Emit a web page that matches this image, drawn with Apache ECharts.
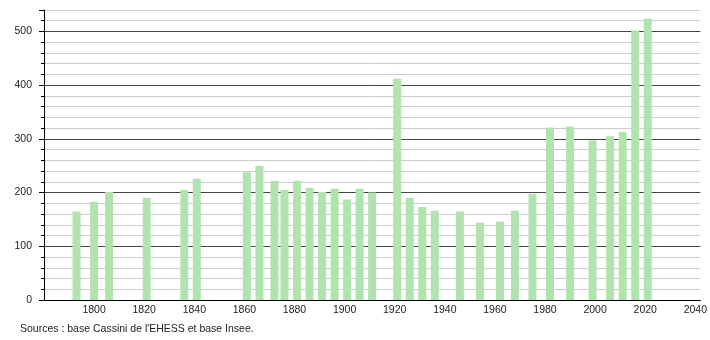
<!DOCTYPE html>
<html><head><meta charset="utf-8">
<script src="https://cdn.jsdelivr.net/npm/echarts@6/dist/echarts.min.js"></script>
<style>html,body{margin:0;padding:0;background:#fff}#c{width:710px;height:340px}</style>
</head><body><div id="c"></div>
<script>
const years = [1793,1800,1806,1821,1836,1841,1861,1866,1872,1876,1881,1886,1891,1896,1901,1906,1911,1921,1926,1931,1936,1946,1954,1962,1968,1975,1982,1990,1999,2006,2011,2016,2021];
const population = [165,183,201,190,205,226,238,250,222,205,222,209,201,207,187,207,200,412,190,173,166,165,144,146,166,198,321,323,297,305,313,502,524];
const xTickLabels = [1800,1820,1840,1860,1880,1900,1920,1940,1960,1980,2000,2020,2040];
const yTickLabels = [0,100,200,300,400,500];
const sourceText = "Sources : base Cassini de l'EHESS et base Insee.";

const chart = echarts.init(document.getElementById('c'), null, {renderer:'canvas'});
const font = 'Liberation Sans, Arial, sans-serif';
chart.setOption({
  animation:false,
  backgroundColor:'#fff',
  grid:{left:44,right:9,top:10,bottom:40},
  xAxis:{
    type:'value', min:1780, max:2042, interval:20,
    axisLine:{show:true,onZero:false,lineStyle:{color:'#000',width:1}},
    axisTick:{show:false},
    splitLine:{show:false},
    axisLabel:{
      customValues:xTickLabels,
      color:'#222', fontFamily:font, fontSize:10.5, margin:5,
      formatter:v=>String(v)
    }
  },
  yAxis:{
    type:'value', min:0, max:540, interval:100,
    axisLine:{show:true,lineStyle:{color:'#000',width:1}},
    axisTick:{show:true,length:5,lineStyle:{color:'#000'}},
    minorTick:{show:true,splitNumber:5,length:3,lineStyle:{color:'#000'}},
    splitLine:{show:true,lineStyle:{color:['#444','#444','#444','#444','#444','#444','#ccc'],width:1}},
    minorSplitLine:{show:true,lineStyle:{color:'#ccc',width:1}},
    axisLabel:{
      color:'#222', fontFamily:font, fontSize:10.5, margin:12,
      formatter:v=> (yTickLabels.indexOf(v)>=0 ? String(v) : '')
    }
  },
  series:[{
    type:'bar',
    data: years.map((y,i)=>[y,population[i]]),
    barWidth:8,
    itemStyle:{color:'#b0e3ae'}
  }],
  graphic:[{
    type:'text', left:20, top:324,
    style:{text:sourceText, fill:'#222', font:'10.5px '+font}
  }]
});
</script>
</body></html>
